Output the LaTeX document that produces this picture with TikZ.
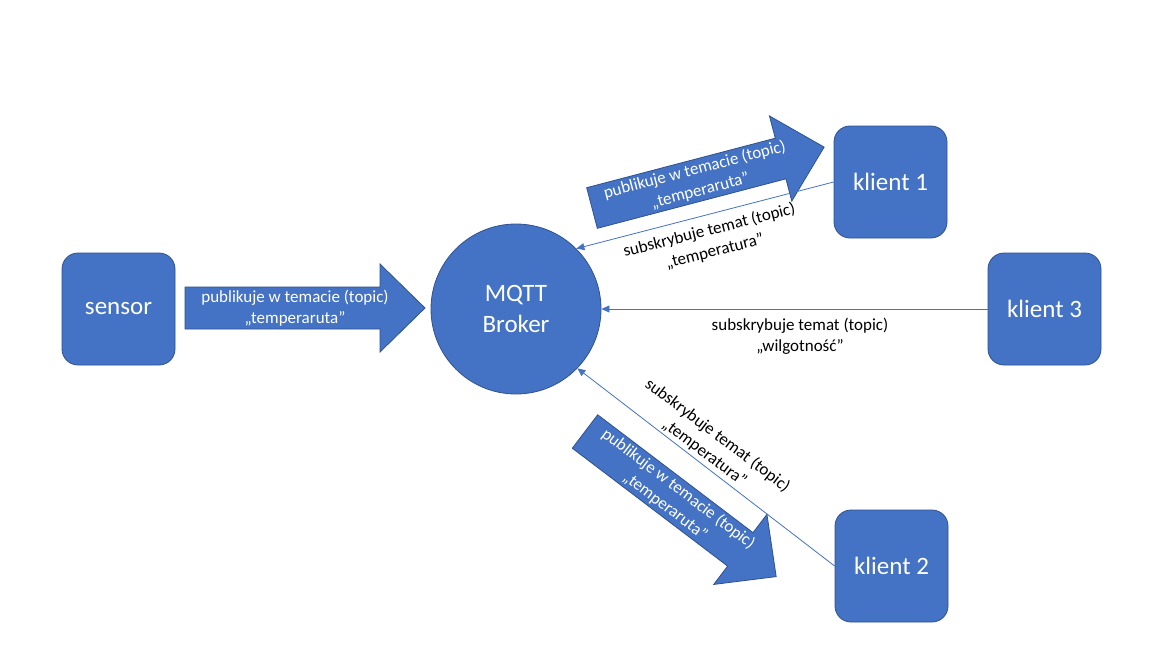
\documentclass[tikz,border=0pt]{standalone}
\usepackage{fontspec}
\setmainfont{Carlito}
\usetikzlibrary{arrows.meta}
\definecolor{fillblue}{HTML}{4472C4}
\definecolor{edgeblue}{HTML}{2F528F}
\begin{document}
\begin{tikzpicture}[x=1pt,y=-1pt,
  box/.style={rounded corners=16pt, fill=fillblue, draw=edgeblue, line width=0.8pt,
    minimum width=113pt, minimum height=112pt, inner sep=0pt, text=white,
    font=\fontsize{25}{31}\selectfont, align=center},
  brokerstyle/.style={circle, fill=fillblue, draw=edgeblue, line width=0.8pt,
    minimum size=170pt, inner sep=0pt, text=white,
    font=\fontsize{25}{31}\selectfont, align=center},
  blockarrow/.style={fill=fillblue, draw=edgeblue, line width=0.8pt},
  arrowtext/.style={text=white, font=\fontsize{17}{21.5}\selectfont, align=center, inner sep=0pt},
  lbl/.style={text=black, font=\fontsize{17}{21.5}\selectfont, align=center, inner sep=0pt},
  sub/.style={draw=fillblue, line width=0.8pt, -{Triangle[length=8pt,width=7pt]}}
]
\useasboundingbox (0,0) rectangle (1155,648);
\fill[white] (0,0) rectangle (1155,648);

% nodes
\node[box] (sensor) at (118.5,309) {sensor};
\node[box] (k1) at (890.5,182) {klient 1};
\node[box] (k3) at (1044.5,309) {klient 3};
\node[box] (k2) at (891.5,566) {klient 2};
\node[brokerstyle] (broker) at (516,309) {MQTT\\Broker};

% block arrows (publish)
\begin{scope}[shift={(185,308)}]
  \draw[blockarrow] (0,-21) -- (195,-21) -- (195,-44) -- (240,0) -- (195,44) -- (195,21) -- (0,21) -- cycle;
  \node[arrowtext] (pub0) at (110,0) {publikuje w temacie (topic)\\„temperaruta”};
\end{scope}
\begin{scope}[shift={(592,208)}, rotate=14.7]
  \draw[blockarrow] (0,-21) -- (195,-21) -- (195,-44) -- (240,0) -- (195,44) -- (195,21) -- (0,21) -- cycle;
  \node[arrowtext, rotate=14.7] (pub1) at (109,0) {publikuje w temacie (topic)\\„temperaruta”};
\end{scope}
\begin{scope}[shift={(585,431.5)}, rotate=-37.2]
  \draw[blockarrow] (0,-21) -- (195,-21) -- (195,-44) -- (240,0) -- (195,44) -- (195,21) -- (0,21) -- cycle;
  \node[arrowtext, rotate=-37.2] (pub2) at (109,0) {publikuje w temacie (topic)\\„temperaruta”};
\end{scope}

% subscribe connectors
\draw[sub] (k1.west) -- (broker.45);
\draw[sub] (k3.west) -- (broker.east);
\draw[sub] (k2.west) -- (broker.-44);

% labels
\node[lbl, rotate=14.2] (l1) at (712,241) {subskrybuje temat (topic)\\„temperatura”};
\node[lbl] (l3) at (800,336) {subskrybuje temat (topic)\\„wilgotność”};
\node[lbl, rotate=-37] (l2) at (711,444) {subskrybuje temat (topic)\\„temperatura”};
\end{tikzpicture}
\end{document}
